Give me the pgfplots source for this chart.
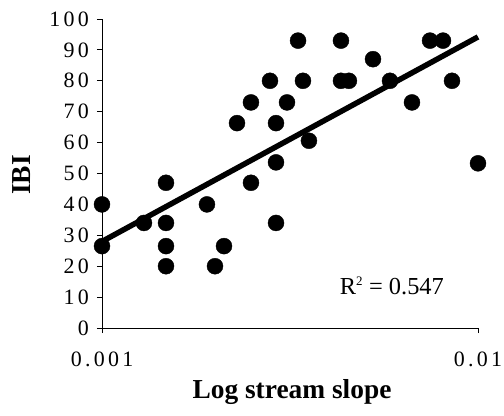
\documentclass[border=0pt]{standalone}
\usepackage{fontspec}
\setmainfont{Liberation Serif}
\newfontfamily\tickfont[LetterSpace=15.0]{Liberation Serif}
\usepackage{pgfplots}
\pgfplotsset{compat=1.18}

\pgfplotstableread{
x y
0.001000 40
0.001000 26.5
0.001293 34
0.001480 47
0.001480 34
0.001480 26.5
0.001480 20
0.001902 40
0.001998 20
0.002111 26.5
0.002286 66.3
0.002490 73
0.002490 47
0.002798 80
0.002903 66.3
0.002903 53.6
0.002903 34
0.003105 73
0.003322 93
0.003424 80
0.003552 60.6
0.004321 93
0.004321 80
0.004536 80
0.005257 87
0.005834 80
0.006675 73
0.007456 93
0.008070 93
0.008528 80
0.010000 53.3
}\pts

\begin{document}
\begin{tikzpicture}[x=1bp,y=1bp]
\useasboundingbox (0,0) rectangle (504,415);
\begin{axis}[
  at={(102bp,87bp)}, anchor=south west,
  scale only axis, width=376bp, height=309bp,
  xmode=log, xmin=0.001, xmax=0.01,
  ymin=0, ymax=100,
  xtick={0.001,0.01}, xticklabels={0.001,0.01},
  xminorticks=false,
  ytick={0,10,20,30,40,50,60,70,80,90,100},
  yticklabels={0,10,20,30,40,50,60,70,80,90,100},
  axis lines*=left,
  tick align=outside,
  major tick length=5bp,
  axis line style={line width=0.8bp},
  every tick/.style={black, line width=0.8bp},
  /pgf/number format/assume math mode=true,
  tick label style={font=\tickfont\fontsize{22}{22}\selectfont},
  y tick label style={anchor=east, inner sep=0pt, xshift=-8bp},
  x tick label style={anchor=north, inner sep=0pt, yshift=-19bp},
  clip=false,
]
\addplot[only marks, mark=*, mark size=8bp, black] table {\pts};
\addplot[black, line width=5.5bp] coordinates {(0.001,28) (0.01,94.2)};
\node[font=\fontsize{24.5}{24.5}\selectfont] at (axis cs:0.0059,13.6) {R\textsuperscript{\fontsize{13}{13}\selectfont 2} = 0.547};
\end{axis}
\node[font=\bfseries\fontsize{27.5}{27.5}\selectfont] at (292,23) {Log stream slope};
\node[font=\bfseries\fontsize{27.5}{27.5}\selectfont, rotate=90] at (22,240) {IBI};
\end{tikzpicture}
\end{document}
